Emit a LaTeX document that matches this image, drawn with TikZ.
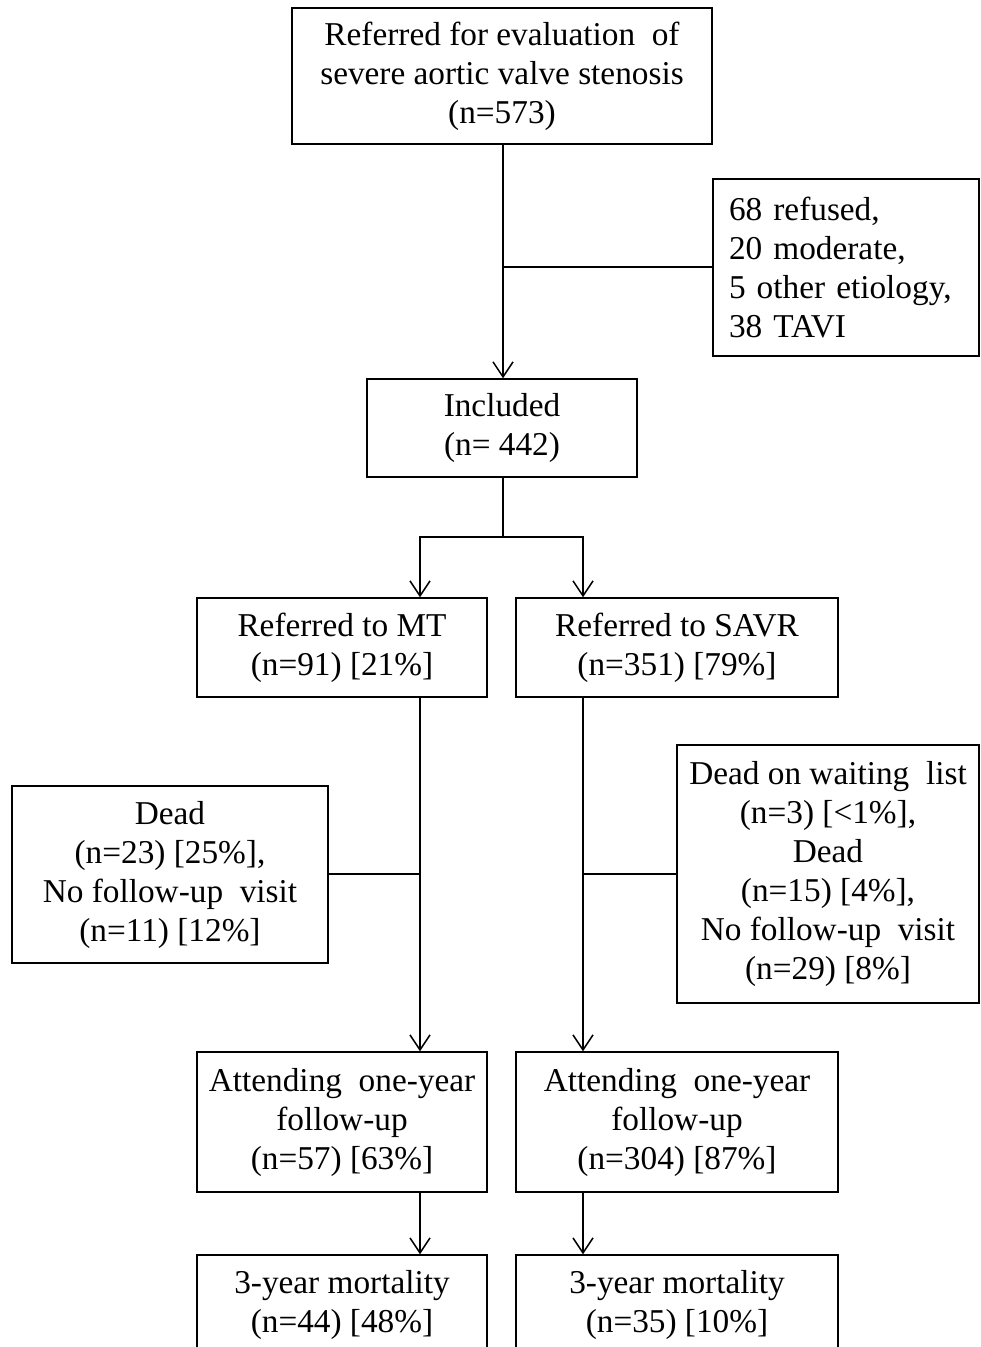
\documentclass[tikz,border=0pt]{standalone}
\usepackage{fontspec}
\setmainfont{Liberation Serif}
\usetikzlibrary{arrows.meta}
\begin{document}
\begin{tikzpicture}[x=1pt,y=-1pt,
 box/.style={draw, line width=1.5pt, rectangle, inner sep=0pt, align=center, font=\fontsize{33.3}{39}\selectfont},
 conn/.style={line width=1.5pt},
 arr/.style={conn, -{Straight Barb[length=15pt,width=20pt,line width=1.5pt]}}]
\clip (0,0) rectangle (981,1347);
\fill[white] (0,0) rectangle (981,1347);

\node[box, minimum width=420pt, minimum height=136pt] (top) at (502,76) {Referred for evaluation\ \ of\\severe aortic valve stenosis\\(n=573)};
\node[box, minimum width=266pt, minimum height=177pt, align=left, text width=234pt] (excl) at (846,267.5) {68 refused,\\20 moderate,\\5 other etiology,\\38 TAVI};
\node[box, minimum width=270pt, minimum height=98pt] (incl) at (502,428) {Included\\(n= 442)};
\node[box, minimum width=290pt, minimum height=99pt] (mt) at (342,647.5) {Referred to MT\\(n=91) [21\%]};
\node[box, minimum width=322pt, minimum height=99pt] (savr) at (677,647.5) {Referred to SAVR\\(n=351) [79\%]};
\node[box, minimum width=316pt, minimum height=177pt] (deadl) at (170,874.5) {Dead\\(n=23) [25\%],\\No follow-up\ \ visit\\(n=11) [12\%]};
\node[box, minimum width=302pt, minimum height=258pt] (deadr) at (828,874) {Dead on waiting\ \ list\\(n=3) [<1\%],\\Dead\\(n=15) [4\%],\\No follow-up\ \ visit\\(n=29) [8\%]};
\node[box, minimum width=290pt, minimum height=140pt] (attl) at (342,1122) {Attending\ \ one-year\\follow-up\\(n=57) [63\%]};
\node[box, minimum width=322pt, minimum height=140pt] (attr) at (677,1122) {Attending\ \ one-year\\follow-up\\(n=304) [87\%]};
\node[box, minimum width=290pt, minimum height=100pt] (mortl) at (342,1305) {3-year mortality\\(n=44) [48\%]};
\node[box, minimum width=322pt, minimum height=100pt] (mortr) at (677,1305) {3-year mortality\\(n=35) [10\%]};

\coordinate (j1) at (503,267);
\coordinate (split) at (503,537);
\coordinate (sl) at (420,537);
\coordinate (sr) at (583,537);
\coordinate (jl) at (420,874);
\coordinate (jr) at (583,874);

\draw[arr] (top.south -| j1) -- (incl.north -| j1);
\draw[conn] (j1) -- (excl.west |- j1);
\draw[conn] (incl.south -| split) -- (split);
\draw[arr] (split) -- (sl) -- (mt.north -| sl);
\draw[arr] (split) -- (sr) -- (savr.north -| sr);
\draw[arr] (mt.south -| jl) -- (attl.north -| jl);
\draw[arr] (savr.south -| jr) -- (attr.north -| jr);
\draw[conn] (jl) -- (deadl.east |- jl);
\draw[conn] (jr) -- (deadr.west |- jr);
\draw[arr] (attl.south -| jl) -- (mortl.north -| jl);
\draw[arr] (attr.south -| jr) -- (mortr.north -| jr);
\end{tikzpicture}
\end{document}
